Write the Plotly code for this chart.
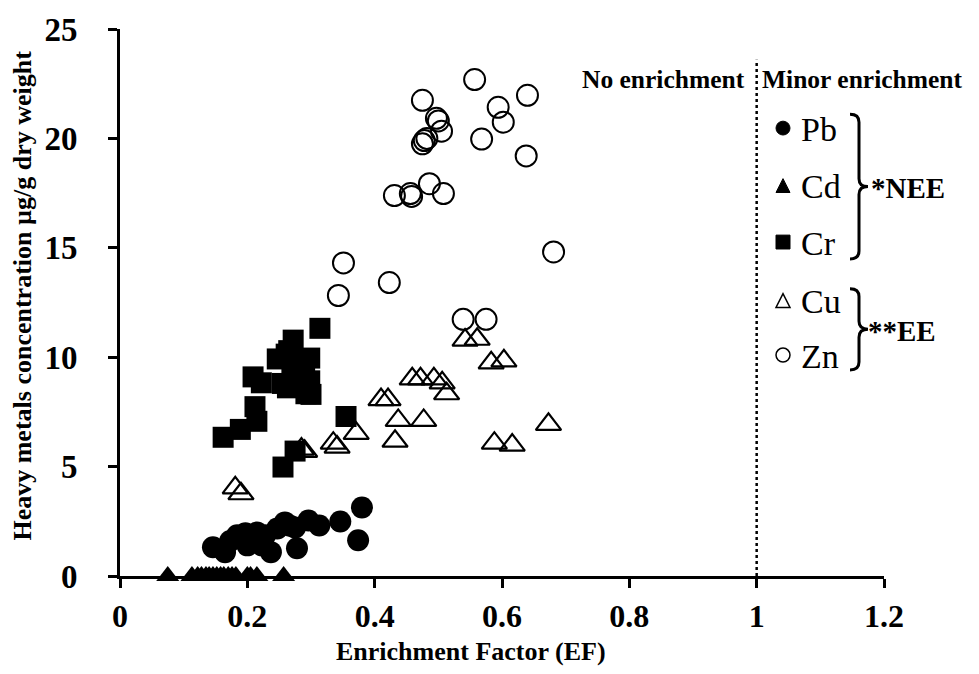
import plotly.graph_objects as go

# ---------------- data ----------------
pb_ef = [0.146, 0.165, 0.173, 0.184, 0.200, 0.197, 0.215, 0.223, 0.228, 0.237,
         0.247, 0.259, 0.267, 0.275, 0.278, 0.296, 0.313, 0.346, 0.374, 0.380]
pb_conc = [1.31, 1.09, 1.60, 1.86, 1.40, 1.95, 1.99, 1.40, 1.86, 1.09,
           2.17, 2.45, 2.30, 2.22, 1.27, 2.54, 2.31, 2.49, 1.63, 3.13]

cd_ef = [0.075, 0.113, 0.122, 0.128, 0.135, 0.140, 0.146, 0.152, 0.158, 0.163,
         0.170, 0.176, 0.182, 0.200, 0.205, 0.215, 0.257]
cd_conc = [0.0] * len(cd_ef)

cr_ef = [0.314, 0.272, 0.261, 0.247, 0.298, 0.209, 0.222, 0.298, 0.263, 0.292,
         0.270, 0.280, 0.265, 0.290, 0.212, 0.215, 0.189, 0.162, 0.355, 0.275,
         0.256, 0.275, 0.255, 0.300]
cr_conc = [11.32, 10.78, 10.14, 9.92, 9.96, 9.10, 8.83, 8.92, 8.60, 8.33,
           9.40, 9.90, 10.30, 9.20, 7.74, 7.07, 6.70, 6.34, 7.29, 5.71,
           4.98, 9.00, 8.80, 8.30]

cu_ef = [0.542, 0.561, 0.583, 0.603, 0.459, 0.472, 0.493, 0.506, 0.513, 0.410,
         0.421, 0.437, 0.477, 0.432, 0.371, 0.673, 0.588, 0.616, 0.335, 0.341,
         0.285, 0.290, 0.181, 0.190]
cu_conc = [10.78, 10.82, 9.74, 9.83, 9.01, 9.01, 9.01, 8.83, 8.33, 8.06,
           8.06, 7.11, 7.11, 6.16, 6.52, 6.93, 6.07, 5.98, 6.07, 5.89,
           5.80, 5.70, 4.03, 3.76]

zn_ef = [0.557, 0.640, 0.475, 0.594, 0.497, 0.500, 0.602, 0.505, 0.475, 0.478,
         0.482, 0.568, 0.638, 0.431, 0.456, 0.458, 0.486, 0.508, 0.681, 0.351,
         0.423, 0.343, 0.539, 0.575]
zn_conc = [22.69, 21.97, 21.74, 21.42, 20.92, 20.80, 20.74, 20.33, 19.75, 19.90,
           20.00, 19.97, 19.20, 17.39, 17.48, 17.35, 17.93, 17.48, 14.81, 14.31,
           13.41, 12.82, 11.73, 11.73]

ef_threshold = 1.0
threshold_top = 23.6

x_ticks = [0, 0.2, 0.4, 0.6, 0.8, 1, 1.2]
y_ticks = [0, 5, 10, 15, 20, 25]

legend_labels = ["Pb", "Cd", "Cr", "Cu", "Zn"]
group_labels = ["*NEE", "**EE"]
zone_labels = ["No enrichment", "Minor enrichment"]
x_title = "Enrichment Factor (EF)"
y_title = "Heavy metals concentration µg/g dry weight"

# ---------------- layout helpers ----------------
W, H = 979, 674
L, R, T, B = 120, 884, 24, 576


def X(px):
    return (px - L) / (R - L)


def Y(py):
    return (B - py) / (B - T)


SERIF = "Liberation Serif"

fig = go.Figure()

fig.add_trace(go.Scatter(x=pb_ef, y=pb_conc, mode="markers", name="Pb",
                         marker=dict(symbol="circle", size=22, color="black"),
                         cliponaxis=False))
fig.add_trace(go.Scatter(x=cd_ef, y=cd_conc, mode="markers", name="Cd",
                         marker=dict(symbol="triangle-up", size=20, color="black"),
                         cliponaxis=False))
fig.add_trace(go.Scatter(x=cr_ef, y=cr_conc, mode="markers", name="Cr",
                         marker=dict(symbol="square", size=21, color="black"),
                         cliponaxis=False))
fig.add_trace(go.Scatter(x=cu_ef, y=cu_conc, mode="markers", name="Cu",
                         marker=dict(symbol="triangle-up-open", size=22, color="black",
                                     line=dict(width=2.2, color="black")),
                         cliponaxis=False))
fig.add_trace(go.Scatter(x=zn_ef, y=zn_conc, mode="markers", name="Zn",
                         marker=dict(symbol="circle-open", size=21, color="black",
                                     line=dict(width=2, color="black")),
                         cliponaxis=False))

shapes = []
# dotted threshold line at EF = 1
shapes.append(dict(type="line", xref="x", yref="y", x0=ef_threshold, x1=ef_threshold,
                   y0=0, y1=threshold_top, line=dict(color="black", width=2.5, dash="dot")))

# legend symbols (drawn manually)
mx = 783
ms = 7
rows = [124, 182, 239, 298, 353]
shapes.append(dict(type="circle", xref="paper", yref="paper",
                   x0=X(mx - ms), x1=X(mx + ms), y0=Y(rows[0] + ms), y1=Y(rows[0] - ms),
                   fillcolor="black", line=dict(color="black", width=1)))
shapes.append(dict(type="path", xref="paper", yref="paper",
                   path=f"M{X(mx - ms)},{Y(rows[1] + ms)} L{X(mx + ms)},{Y(rows[1] + ms)} L{X(mx)},{Y(rows[1] - ms)} Z",
                   fillcolor="black", line=dict(color="black", width=1)))
shapes.append(dict(type="rect", xref="paper", yref="paper",
                   x0=X(mx - ms), x1=X(mx + ms), y0=Y(rows[2] + ms), y1=Y(rows[2] - ms),
                   fillcolor="black", line=dict(color="black", width=1)))
shapes.append(dict(type="path", xref="paper", yref="paper",
                   path=f"M{X(mx - ms)},{Y(rows[3] + ms)} L{X(mx + ms)},{Y(rows[3] + ms)} L{X(mx)},{Y(rows[3] - ms)} Z",
                   fillcolor="white", line=dict(color="black", width=1.5)))
shapes.append(dict(type="circle", xref="paper", yref="paper",
                   x0=X(mx - ms), x1=X(mx + ms), y0=Y(rows[4] + ms), y1=Y(rows[4] - ms),
                   fillcolor="white", line=dict(color="black", width=1.5)))


def brace(x0, ytop, ybot, tipx):
    ymid = (ytop + ybot) / 2
    xm = (x0 + tipx) / 2
    r = 8
    p = (f"M{X(x0)},{Y(ytop)} Q{X(xm)},{Y(ytop)} {X(xm)},{Y(ytop + r)} "
         f"L{X(xm)},{Y(ymid - r)} Q{X(xm)},{Y(ymid)} {X(tipx)},{Y(ymid)} "
         f"Q{X(xm)},{Y(ymid)} {X(xm)},{Y(ymid + r)} "
         f"L{X(xm)},{Y(ybot - r)} Q{X(xm)},{Y(ybot)} {X(x0)},{Y(ybot)}")
    return dict(type="path", xref="paper", yref="paper", path=p,
                line=dict(color="black", width=3))


shapes.append(brace(850, 110, 256, 868))
shapes.append(brace(850, 286, 368, 868))

annotations = []
for lab, ry in zip(legend_labels, rows):
    annotations.append(dict(xref="paper", yref="paper", x=X(799), y=Y(ry + 1),
                            xanchor="left", yanchor="middle", showarrow=False, text=lab,
                            font=dict(family=SERIF, size=34, color="black")))
annotations.append(dict(xref="paper", yref="paper", x=X(869), y=Y(184), xanchor="left",
                        yanchor="middle", showarrow=False, text=group_labels[0],
                        font=dict(family=SERIF, size=29, color="black", weight="bold")))
annotations.append(dict(xref="paper", yref="paper", x=X(866), y=Y(329), xanchor="left",
                        yanchor="middle", showarrow=False, text=group_labels[1],
                        font=dict(family=SERIF, size=29, color="black", weight="bold")))
annotations.append(dict(xref="paper", yref="paper", x=X(747), y=Y(75), xanchor="right",
                        yanchor="middle", showarrow=False, text=zone_labels[0],
                        font=dict(family=SERIF, size=25.5, color="black", weight="bold")))
annotations.append(dict(xref="paper", yref="paper", x=X(760), y=Y(75), xanchor="left",
                        yanchor="middle", showarrow=False, text=zone_labels[1],
                        font=dict(family=SERIF, size=25.5, color="black", weight="bold")))
annotations.append(dict(xref="paper", yref="paper", x=X(471), y=Y(652), xanchor="center",
                        yanchor="middle", showarrow=False, text=x_title,
                        font=dict(family=SERIF, size=26, color="black", weight="bold")))
annotations.append(dict(xref="paper", yref="paper", x=X(23), y=Y(293), xanchor="center",
                        yanchor="middle", showarrow=False, text=y_title, textangle=-90,
                        font=dict(family=SERIF, size=26, color="black", weight="bold")))

fig.update_layout(
    width=W, height=H,
    margin=dict(l=L, r=W - R, t=T, b=H - B, pad=0),
    plot_bgcolor="white", paper_bgcolor="white",
    showlegend=False,
    shapes=shapes, annotations=annotations,
    xaxis=dict(range=[0, 1.2], tickvals=x_ticks, ticktext=[f"{v:g}" for v in x_ticks],
               showgrid=False, zeroline=False, showline=True, linecolor="black", linewidth=3,
               ticks="outside", ticklen=9, tickwidth=2.5, tickcolor="black",
               ticklabelstandoff=1,
               tickfont=dict(family=SERIF, size=32, color="black", weight="bold")),
    yaxis=dict(range=[0, 25], tickvals=y_ticks, ticktext=[str(v) for v in y_ticks],
               showgrid=False, zeroline=False, showline=True, linecolor="black", linewidth=3,
               ticks="outside", ticklen=9, tickwidth=2.5, tickcolor="black",
               ticklabelstandoff=24,
               tickfont=dict(family=SERIF, size=33, color="black", weight="bold")),
)

fig.write_html("out.html")
